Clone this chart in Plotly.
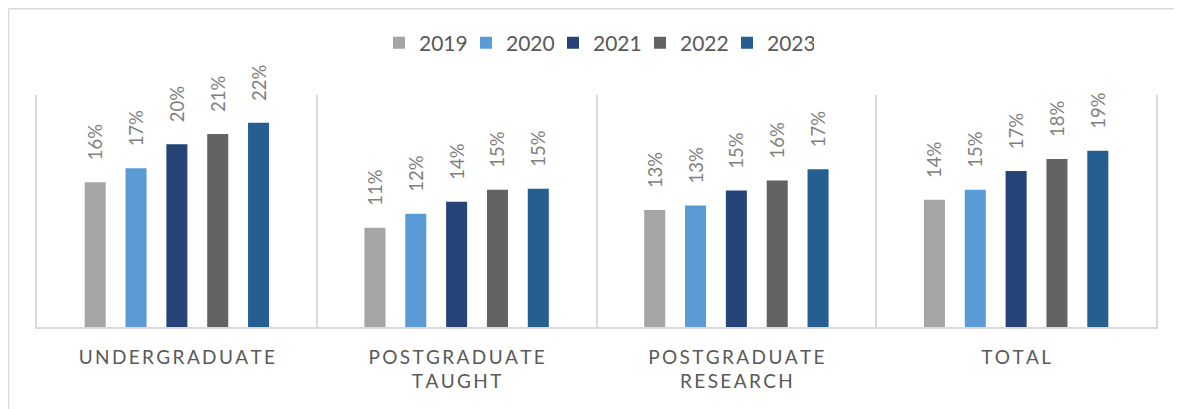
import plotly.graph_objects as go

categories = ["UNDERGRADUATE", "POSTGRADUATE<br>TAUGHT", "POSTGRADUATE<br>RESEARCH", "TOTAL"]
years = ["2019", "2020", "2021", "2022", "2023"]

# share per year
v2019 = [0.156, 0.107, 0.126, 0.137]
v2020 = [0.171, 0.122, 0.131, 0.148]
v2021 = [0.197, 0.135, 0.147, 0.168]
v2022 = [0.208, 0.148, 0.158, 0.181]
v2023 = [0.220, 0.149, 0.170, 0.190]
values = [v2019, v2020, v2021, v2022, v2023]

colors = ["#A5A5A5", "#5B9BD5", "#264478", "#636363", "#255E91"]


def spaced(label):
    # mimic the letter-spaced category labels
    return "<br>".join("\u2009".join(part) for part in label.split("<br>"))


xlabels = [spaced(c) for c in categories]

fig = go.Figure()
for year, vals, col in zip(years, values, colors):
    fig.add_trace(go.Bar(
        name=year, x=xlabels, y=vals, marker_color=col,
        marker_line_width=0,
        texttemplate="\u00a0\u00a0\u00a0\u00a0%{y:.0%}", textposition="outside",
        textangle=-90, constraintext="none", cliponaxis=False,
        textfont=dict(color="#7F7F7F", size=18.5),
    ))

# page has an 8px body margin, so the figure is 8px smaller than the window
fig.update_layout(
    width=1174, height=401,
    margin=dict(l=29, r=26, t=87, b=82),
    paper_bgcolor="white", plot_bgcolor="white",
    font=dict(family="Lato", size=19, color="#595959"),
    barmode="group", bargap=0.27, bargroupgap=0.485,
    showlegend=True,
    legend=dict(orientation="h", x=0.5, xanchor="center", y=1.224, yanchor="middle",
                entrywidth=42, font=dict(size=21, color="#595959"), traceorder="normal"),
    xaxis=dict(showgrid=True, gridcolor="#D9D9D9", gridwidth=1.5, tickson="boundaries",
               showline=True, linecolor="#D9D9D9", linewidth=1.5, ticks="",
               ticklabelstandoff=12, tickfont=dict(size=19, color="#595959")),
    yaxis=dict(range=[0, 0.25], showgrid=False, showticklabels=False, zeroline=False,
               showline=True, mirror=True, linecolor="#D9D9D9", linewidth=1.5, ticks=""),
    shapes=[
        dict(type="line", xref="paper", yref="paper", x0=-0.0255, x1=-0.0255, y0=1.372, y1=-0.4,
             line=dict(color="#D9D9D9", width=1.5)),
        dict(type="line", xref="paper", yref="paper", x0=-0.0255, x1=1.05, y0=1.372, y1=1.372,
             line=dict(color="#D9D9D9", width=1.5)),
    ],
)

fig.write_html("out.html")
